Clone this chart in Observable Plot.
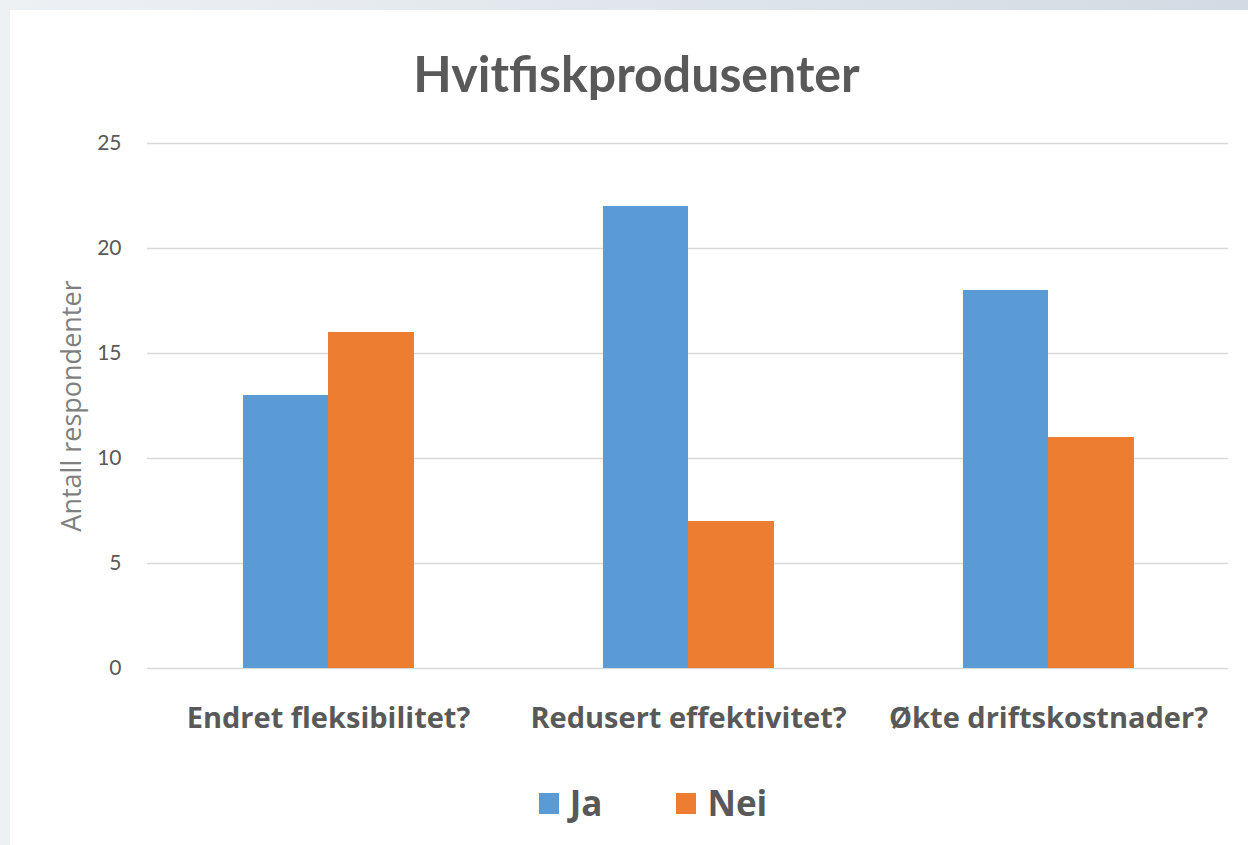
<!DOCTYPE html>
<html>
<head>
<meta charset="utf-8">
<script src="https://cdn.jsdelivr.net/npm/d3@7"></script>
<script src="https://cdn.jsdelivr.net/npm/@observablehq/plot@0.6"></script>
<style>
  html, body { margin: 0; padding: 0; }
  body {
    width: 1248px; height: 845px; overflow: hidden; position: relative;
    background: linear-gradient(to right, #eef1f4, #d2dbe3);
    font-family: Lato, "Open Sans", sans-serif;
  }
  #panel { position: absolute; left: 10px; top: 10px; width: 1238px; height: 835px; background: #fff; }
  #title { position: absolute; left: 0; top: 43px; width: 1273px; text-align: center;
    font-size: 50px; font-weight: bold; color: #595959; line-height: 60px; }
  #chart { position: absolute; left: 0; top: 100px; }
  #legend { position: absolute; left: 0; top: 783px; width: 1306px; display: flex; justify-content: center;
    align-items: center; font-family: "Open Sans", sans-serif;
    font-size: 35px; font-weight: bold; color: #595959; line-height: 40px; height: 40px; }
  .item { display: flex; align-items: center; }
  .item + .item { margin-left: 74px; }
  .sw { display: inline-block; width: 20px; height: 21px; margin-right: 11px; }
</style>
</head>
<body>
<div id="panel"></div>
<div id="title"></div>
<div id="chart"></div>
<div id="legend"></div>
<script>
const titleText = "Hvitfiskprodusenter";
const yLabel = "Antall respondenter";
const categories = ["Endret fleksibilitet?", "Redusert effektivitet?", "Økte driftskostnader?"];
const series = ["Ja", "Nei"];
const jaValues = [13, 22, 18];
const neiValues = [16, 7, 11];
const colors = ["#5B9BD5", "#ED7D31"];
const yTicks = [0, 5, 10, 15, 20, 25];

document.getElementById("title").textContent = titleText;

const rows = [];
categories.forEach((c, i) => {
  rows.push({category: c, series: "Ja", value: jaValues[i]});
  rows.push({category: c, series: "Nei", value: neiValues[i]});
});

const chart = Plot.plot({
  width: 1248,
  height: 645,
  marginLeft: 147,
  marginRight: 20,
  marginTop: 43,
  marginBottom: 77,
  style: {fontFamily: "Lato, 'Open Sans', sans-serif", background: "transparent"},
  x: {domain: categories, padding: 0},
  y: {domain: [0, 25]},
  color: {domain: series, range: colors},
  marks: [
    Plot.gridY(yTicks, {stroke: "#d9d9d9", strokeOpacity: 1, strokeWidth: 1.3}),
    Plot.barY(rows.filter(d => d.series === "Ja"), {x: "category", y: "value", fill: "series", insetLeft: 95, insetRight: 180}),
    Plot.barY(rows.filter(d => d.series === "Nei"), {x: "category", y: "value", fill: "series", insetLeft: 180, insetRight: 94}),
    Plot.axisY(yTicks, {tickSize: 0, tickPadding: 26, fontSize: 21, fill: "#595959", label: null}),
    Plot.axisX({tickSize: 0, tickPadding: 39, fontSize: 29, fontWeight: "bold", fontFamily: "'Open Sans', sans-serif", fill: "#595959", label: null}),
    Plot.text([yLabel], {frameAnchor: "left", textAnchor: "middle", dx: -75, rotate: -90, fontSize: 27, fontFamily: "'Open Sans', sans-serif", fill: "#7f7f7f"})
  ]
});
document.getElementById("chart").appendChild(chart);

const legend = document.getElementById("legend");
series.forEach((s, i) => {
  const item = document.createElement("span");
  item.className = "item";
  const sw = document.createElement("span");
  sw.className = "sw";
  sw.style.background = colors[i];
  item.appendChild(sw);
  item.appendChild(document.createTextNode(s));
  legend.appendChild(item);
});
</script>
</body>
</html>
